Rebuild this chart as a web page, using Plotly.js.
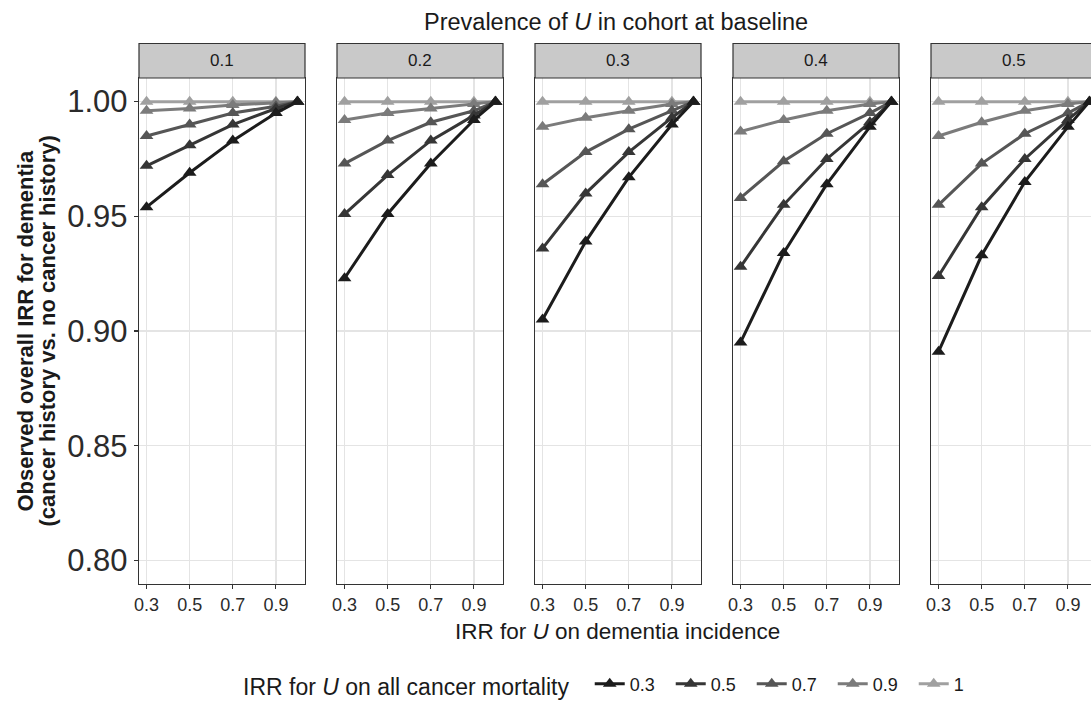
<!DOCTYPE html>
<html>
<head>
<meta charset="utf-8">
<script src="https://cdn.plot.ly/plotly-3.0.1.min.js"></script>
<style>
html,body{margin:0;padding:0;overflow:hidden;background:#fff;}
#chart{width:1100px;height:709px;}
</style>
</head>
<body>
<div id="chart"></div>
<script>
// x: IRR for U on dementia incidence
const xVals = [0.3, 0.5, 0.7, 0.9, 1.0];
// facets: prevalence of U in cohort at baseline
const prevalence = ["0.1", "0.2", "0.3", "0.4", "0.5"];
// series: IRR for U on all cancer mortality
const mortality = ["0.3", "0.5", "0.7", "0.9", "1"];
const seriesColors = ["#1c1c1c", "#363636", "#565656", "#7b7b7b", "#a0a0a0"];

// observed overall IRR, per facet, per mortality series
const p01_m03 = [0.954, 0.969, 0.983, 0.995, 1.0];
const p01_m05 = [0.972, 0.981, 0.990, 0.997, 1.0];
const p01_m07 = [0.985, 0.990, 0.995, 0.998, 1.0];
const p01_m09 = [0.996, 0.997, 0.9985, 0.9996, 1.0];
const p01_m1  = [1.0, 1.0, 1.0, 1.0, 1.0];

const p02_m03 = [0.923, 0.951, 0.973, 0.992, 1.0];
const p02_m05 = [0.951, 0.968, 0.983, 0.994, 1.0];
const p02_m07 = [0.973, 0.983, 0.991, 0.996, 1.0];
const p02_m09 = [0.992, 0.995, 0.997, 0.999, 1.0];
const p02_m1  = [1.0, 1.0, 1.0, 1.0, 1.0];

const p03_m03 = [0.905, 0.939, 0.967, 0.990, 1.0];
const p03_m05 = [0.936, 0.960, 0.978, 0.993, 1.0];
const p03_m07 = [0.964, 0.978, 0.988, 0.996, 1.0];
const p03_m09 = [0.989, 0.993, 0.996, 0.999, 1.0];
const p03_m1  = [1.0, 1.0, 1.0, 1.0, 1.0];

const p04_m03 = [0.895, 0.934, 0.964, 0.989, 1.0];
const p04_m05 = [0.928, 0.955, 0.975, 0.991, 1.0];
const p04_m07 = [0.958, 0.974, 0.986, 0.995, 1.0];
const p04_m09 = [0.987, 0.992, 0.996, 0.999, 1.0];
const p04_m1  = [1.0, 1.0, 1.0, 1.0, 1.0];

const p05_m03 = [0.891, 0.933, 0.965, 0.989, 1.0];
const p05_m05 = [0.924, 0.954, 0.975, 0.992, 1.0];
const p05_m07 = [0.955, 0.973, 0.986, 0.995, 1.0];
const p05_m09 = [0.985, 0.991, 0.996, 0.999, 1.0];
const p05_m1  = [1.0, 1.0, 1.0, 1.0, 1.0];

const xTicks = [0.3, 0.5, 0.7, 0.9];
const xTickText = ["0.3", "0.5", "0.7", "0.9"];
const yTicks = [0.80, 0.85, 0.90, 0.95, 1.00];
const yTickText = ["0.80", "0.85", "0.90", "0.95", "1.00"];

const panels = [
  [p01_m03, p01_m05, p01_m07, p01_m09, p01_m1],
  [p02_m03, p02_m05, p02_m07, p02_m09, p02_m1],
  [p03_m03, p03_m05, p03_m07, p03_m09, p03_m1],
  [p04_m03, p04_m05, p04_m07, p04_m09, p04_m1],
  [p05_m03, p05_m05, p05_m07, p05_m09, p05_m1]
];

const FONT = "Liberation Sans, Arial, Helvetica, sans-serif";
const W = 1100, H = 709;
const mL = 139, mR = 3, mT = 78, mB = 118;
const plotW = W - mL - mR; // 958
const plotH = H - mT - mB; // 513
const panelW = 166, gap = 32;
const px2x = v => (v - mL) / plotW;
const px2y = v => (mT + plotH - v) / plotH;

const traces = [];
const layout = {
  width: W, height: H,
  margin: {l: mL, r: mR, t: mT, b: mB, pad: 0},
  paper_bgcolor: "#ffffff",
  plot_bgcolor: "#ffffff",
  font: {family: FONT, color: "#1a1a1a"},
  showlegend: true,
  legend: {
    orientation: "h",
    x: px2x(618), xanchor: "center",
    y: px2y(694), yanchor: "middle",
    traceorder: "normal",
    font: {size: 18, family: FONT, color: "#1a1a1a"},
    title: {text: "IRR for <i>U</i> on all cancer mortality  ", side: "left", font: {size: 23, family: FONT, color: "#1a1a1a"}},
    itemwidth: 30,
    entrywidth: 36,
    entrywidthmode: "pixels"
  },
  shapes: [],
  annotations: []
};

panels.forEach((series, p) => {
  const idx = p === 0 ? "" : String(p + 1);
  const x0 = (p * (panelW + gap)) / plotW;
  const x1 = Math.min(1, (p * (panelW + gap) + panelW) / plotW);
  layout["xaxis" + idx] = {
    domain: [x0, x1],
    anchor: "y" + idx,
    range: [0.265, 1.035],
    tickvals: xTicks, ticktext: xTickText,
    ticks: "outside", ticklen: 4, tickwidth: 1.1, tickcolor: "#333333",
    tickfont: {size: 18, family: FONT, color: "#2b2b2b"},
    showgrid: true, gridcolor: "#e4e4e4", gridwidth: 1.3,
    zeroline: false,
    showline: true, mirror: true, linecolor: "#333333", linewidth: 1.2,
    fixedrange: true
  };
  layout["yaxis" + idx] = {
    domain: [0, 1],
    anchor: "x" + idx,
    range: [0.7897, 1.0103],
    tickvals: yTicks, ticktext: yTickText,
    ticks: p === 0 ? "outside" : "",
    ticklen: 4, tickwidth: 1.1, tickcolor: "#333333",
    showticklabels: p === 0,
    tickfont: {size: 31, family: FONT, color: "#2b2b2b"},
    showgrid: true, gridcolor: "#e4e4e4", gridwidth: 1.3,
    zeroline: false,
    showline: true, mirror: true, linecolor: "#333333", linewidth: 1.2,
    fixedrange: true
  };
  // strip
  const sx0 = (p * (panelW + gap)) / plotW;
  const sx1 = (p * (panelW + gap) + panelW) / plotW;
  layout.shapes.push({
    type: "rect", xref: "paper", yref: "paper",
    x0: sx0, x1: sx1, y0: 1, y1: 1 + 35 / plotH,
    fillcolor: "#c9c9c9", line: {color: "#333333", width: 1.2}, layer: "above"
  });
  layout.annotations.push({
    xref: "paper", yref: "paper",
    x: (sx0 + sx1) / 2, y: 1 + 17.5 / plotH,
    xanchor: "center", yanchor: "middle",
    text: prevalence[p], showarrow: false,
    font: {size: 17, family: FONT, color: "#1a1a1a"}
  });
  // draw lighter series first so darker ones end on top
  for (let s = series.length - 1; s >= 0; s--) {
    traces.push({
      type: "scatter", mode: "lines+markers",
      x: xVals, y: series[s],
      xaxis: "x" + idx, yaxis: "y" + idx,
      name: mortality[s],
      legendgroup: mortality[s],
      legendrank: s + 1,
      showlegend: p === 0,
      line: {color: seriesColors[s], width: 3},
      marker: {symbol: "triangle-up", size: 12, color: seriesColors[s]},
      cliponaxis: false,
      hoverinfo: "x+y+name"
    });
  }
});

// titles
layout.annotations.push({
  xref: "paper", yref: "paper", x: px2x(616), y: px2y(21),
  xanchor: "center", yanchor: "middle", showarrow: false,
  text: "Prevalence of <i>U</i> in cohort at baseline",
  font: {size: 23.5, family: FONT, color: "#1a1a1a"}
});
layout.annotations.push({
  xref: "paper", yref: "paper", x: px2x(617), y: px2y(639),
  xanchor: "center", yanchor: "middle", showarrow: false,
  text: "IRR for <i>U</i> on dementia incidence",
  font: {size: 22.5, family: FONT, color: "#1a1a1a"}
});
layout.annotations.push({
  xref: "paper", yref: "paper", x: px2x(25), y: px2y(335),
  xanchor: "center", yanchor: "middle", showarrow: false, textangle: -90,
  text: "<b>Observed overall IRR for dementia</b>",
  font: {size: 22, family: FONT, color: "#1a1a1a"}
});
layout.annotations.push({
  xref: "paper", yref: "paper", x: px2x(47), y: px2y(335),
  xanchor: "center", yanchor: "middle", showarrow: false, textangle: -90,
  text: "<b>(cancer history vs. no cancer history)</b>",
  font: {size: 22, family: FONT, color: "#1a1a1a"}
});

Plotly.newPlot("chart", traces, layout, {displayModeBar: false, staticPlot: true});
</script>
</body>
</html>
